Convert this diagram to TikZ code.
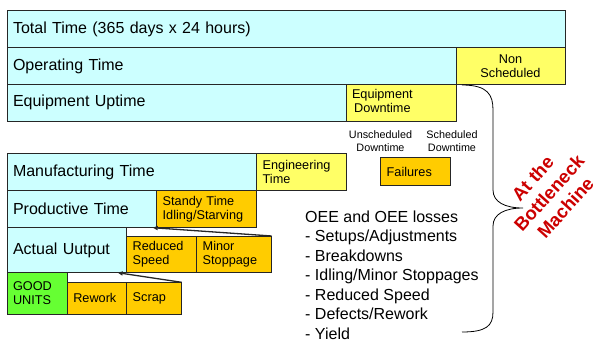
\documentclass[tikz,border=0pt]{standalone}
\usepackage{fontspec}
\setmainfont{Liberation Sans}
\usetikzlibrary{calc,arrows.meta}

\definecolor{timecyan}{HTML}{CCFFFF}
\definecolor{lossyellow}{HTML}{FFFF66}
\definecolor{lossorange}{HTML}{FFCC00}
\definecolor{goodgreen}{HTML}{66FF33}
\definecolor{bneckred}{HTML}{CC0000}

\tikzset{
  bar/.style={draw=black!85, line width=0.8pt, anchor=north west, inner sep=0pt,
    outer sep=0pt, align=left},
  bigtext/.style={font=\fontsize{16}{19}\selectfont},
  smalltext/.style={font=\fontsize{12.7}{14.5}\selectfont},
  tinytext/.style={font=\fontsize{10.8}{12.6}\selectfont, align=center},
  lossarrow/.style={-{Triangle[length=5pt,width=4pt]}, line width=1.3pt, black!85},
}

% box: name, fill, x, y, width, height, text style, text
\newcommand{\tbox}[8]{%
  \node[bar, fill=#2, minimum width=#5pt, minimum height=#6pt,
        text width=#5pt-12pt, #7] (#1) at (#3,#4) {#8};}

\begin{document}
\begin{tikzpicture}[x=1pt,y=-1pt]
\useasboundingbox (0,0) rectangle (595,340);

% stacked time categories
\tbox{total}{timecyan}{7}{10.7}{558}{37}{bigtext}{Total Time (365 days x 24 hours)}
\tbox{operating}{timecyan}{7}{47.7}{449}{36.6}{bigtext}{Operating Time}
\node[bar, fill=lossyellow, minimum width=109pt, minimum height=36.6pt,
      smalltext, align=center] (nonsched) at (456,47.7) {Non\\Scheduled};
\tbox{uptime}{timecyan}{7}{84.3}{339}{36.7}{bigtext}{Equipment Uptime}
\node[bar, fill=lossyellow, minimum width=110pt, minimum height=36.7pt,
      smalltext, text width=98pt] (downtime) at (346,84.3)
      {\hspace*{0pt}\begin{tabular}{@{}c@{}}Equipment\\Downtime\end{tabular}};

\node[tinytext] (unsched) at (380.5,141) {Unscheduled\\Downtime};
\node[tinytext] (sched) at (452,141) {Scheduled\\Downtime};

\tbox{manuf}{timecyan}{7}{153.3}{249.7}{37.4}{bigtext}{Manufacturing Time}
\tbox{engin}{lossyellow}{256.7}{153.3}{89.3}{37.4}{smalltext}{Engineering\\Time}
\node[bar, fill=lossorange, minimum width=70pt, minimum height=28pt,
      smalltext, text width=58pt] (failures) at (380.7,157.7) {Failures};

\tbox{productive}{timecyan}{7}{190.7}{149.7}{37}{bigtext}{Productive Time}
\tbox{standy}{lossorange}{156.7}{190.7}{100}{37}{smalltext}{Standy Time\\Idling/Starving}

\tbox{actual}{timecyan}{7}{227.7}{119.7}{45}{bigtext}{Actual Uutput}
\tbox{reduced}{lossorange}{126.7}{236}{70}{36.7}{smalltext}{Reduced\\Speed}
\tbox{minor}{lossorange}{196.7}{236}{75}{36.7}{smalltext}{Minor\\Stoppage}

\tbox{good}{goodgreen}{7}{272.7}{60.3}{41.3}{smalltext}{GOOD\\UNITS}
\tbox{rework}{lossorange}{67.3}{282.3}{59.4}{31.7}{smalltext}{Rework}
\tbox{scrap}{lossorange}{126.7}{282.3}{55}{31.7}{smalltext}{Scrap}

% losses feeding back into the category above
\coordinate (prodtip) at ($(productive.south east)+(-4,0)$);
\coordinate (acttip) at ($(actual.south east)+(-9,0)$);
\draw[lossarrow] (minor.north east) -- (prodtip);
\draw[lossarrow] (scrap.north east) -- (acttip);

% list of losses
\node[font=\fontsize{16}{19.5}\selectfont, align=left, anchor=north west, inner sep=0pt] (oee) at (305,210.5)
  {OEE and OEE losses\\- Setups/Adjustments\\- Breakdowns\\- Idling/Minor Stoppages\\- Reduced Speed\\- Defects/Rework\\- Yield};

% brace gathering the losses
\draw[line width=0.8pt] (462,85) .. controls (488,85) and (493,95) .. (493,110)
  -- (493,190) .. controls (493,202) and (505,208) .. (523,208)
  .. controls (505,208) and (493,214) .. (493,226)
  -- (493,312) .. controls (493,326) and (486,332) .. (462,332);

\node[rotate=48, align=center, text=bneckred,
      font=\fontsize{18.5}{22}\selectfont\bfseries] (bneck) at (549,193)
  {At the\\Bottleneck\\Machine};
\end{tikzpicture}
\end{document}
